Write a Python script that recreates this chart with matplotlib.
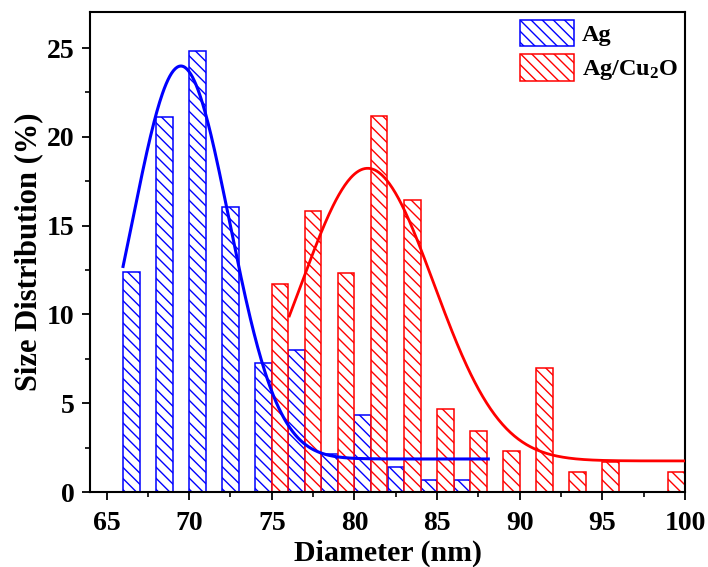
import numpy as np
import matplotlib.pyplot as plt

plt.rcParams['font.family'] = 'Liberation Serif'
plt.rcParams['font.weight'] = 'bold'
plt.rcParams['mathtext.fontset'] = 'custom'
plt.rcParams['mathtext.rm'] = 'Liberation Serif:bold'
plt.rcParams['mathtext.it'] = 'Liberation Serif:bold'
plt.rcParams['mathtext.bf'] = 'Liberation Serif:bold'
plt.rcParams['hatch.linewidth'] = 1.0

# histogram bins (centre of each 1 nm bin) and percentages
ag_centers = [66.5, 68.5, 70.5, 72.5, 74.5, 76.5, 78.5, 80.5, 82.5, 84.5, 86.5]
ag_values = [12.37, 21.13, 24.81, 16.03, 7.25, 8.0, 2.14, 4.32, 1.41, 0.66, 0.66]

agcu_centers = [75.5, 77.5, 79.5, 81.5, 83.5, 85.5, 87.5, 89.5, 91.5, 93.5, 95.5, 99.5]
agcu_values = [11.73, 15.84, 12.33, 21.17, 16.46, 4.65, 3.45, 2.29, 7.0, 1.11, 1.67, 1.11]

# gaussian fit parameters: offset, amplitude, centre, sigma, fit range
ag_fit = dict(y0=1.86, A=22.13, xc=69.5, s=2.93, xmin=66.0, xmax=88.1)
agcu_fit = dict(y0=1.75, A=16.48, xc=80.8, s=4.0, xmin=76.06, xmax=100.0)


def gauss_curve(p):
    xx = np.linspace(p['xmin'], p['xmax'], 400)
    yy = p['y0'] + p['A'] * np.exp(-(xx - p['xc'])**2 / (2 * p['s']**2))
    return xx, yy


fig = plt.figure(figsize=(7.08, 5.67), dpi=100)
ax = fig.add_axes([90/708, 75/567, 595/708, 480.3/567])

ax.bar(ag_centers, ag_values, width=1.0, facecolor='white', edgecolor='blue',
       hatch='\\\\\\', linewidth=1.1, label='Ag', zorder=2)
ax.bar(agcu_centers, agcu_values, width=1.0, facecolor='white', edgecolor='red',
       hatch='\\\\\\', linewidth=1.1, label='Ag/Cu$_2$O', zorder=2)

x1, y1 = gauss_curve(ag_fit)
x2, y2 = gauss_curve(agcu_fit)
ax.plot(x1, y1, color='blue', lw=2.2, zorder=3)
ax.plot(x2, y2, color='red', lw=2.0, zorder=3)

ax.set_xlim(64, 100)
ax.set_ylim(0, 27.05)
ax.set_xticks(np.arange(65, 101, 5))
ax.set_xticks(np.arange(67.5, 100, 5), minor=True)
ax.set_yticks(np.arange(0, 26, 5))
ax.set_yticks(np.arange(2.5, 26, 5), minor=True)
ax.tick_params(which='major', direction='out', length=6, width=1.3, labelsize=20)
ax.tick_params(axis='x', which='major', pad=8)
ax.tick_params(axis='y', which='major', pad=5)
ax.tick_params(which='minor', direction='out', length=3.5, width=1.2)
for sp in ax.spines.values():
    sp.set_linewidth(1.5)

ax.set_xlabel('Diameter (nm)', fontsize=21.5, fontweight='bold', labelpad=2)
ax.set_ylabel('Size Distribution (%)', fontsize=22, fontweight='bold', labelpad=3)

ax.legend(loc='upper right', bbox_to_anchor=(1.005, 1.004), frameon=False,
          fontsize=17.5, handlelength=2.22, handleheight=1.33,
          handletextpad=0.33, labelspacing=0.3, borderaxespad=0.0)

plt.savefig('out.png', dpi=100)
